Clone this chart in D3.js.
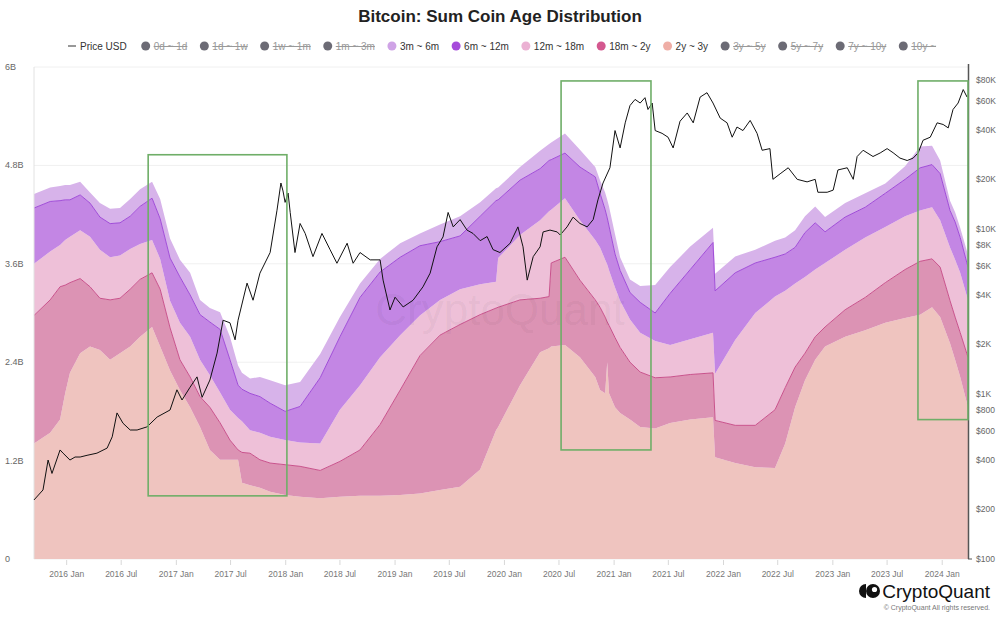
<!DOCTYPE html>
<html><head><meta charset="utf-8">
<script src="https://cdn.jsdelivr.net/npm/d3@7"></script>
<style>body{margin:0;background:#fff;} svg{display:block;font-family:"Liberation Sans", Arial, sans-serif;}</style>
</head><body><svg id="c" width="1000" height="618"></svg>
<script>
// ---------- DATA ----------
const dates = ["2015-09-14","2015-11-07","2015-12-10","2015-12-27","2016-01-12","2016-02-15","2016-03-19","2016-04-21","2016-05-25","2016-06-27","2016-07-31","2016-09-02","2016-10-12","2016-11-08","2016-12-11","2017-01-13","2017-02-16","2017-03-21","2017-04-23","2017-05-27","2017-06-29","2017-07-26","2017-08-08","2017-09-04","2017-10-07","2017-11-10","2017-12-30","2018-02-18","2018-04-26","2018-07-01","2018-09-06","2018-11-12","2019-01-18","2019-03-25","2019-05-31","2019-08-06","2019-10-12","2019-12-04","2019-12-11","2020-02-22","2020-04-29","2020-05-29","2020-06-05","2020-07-21","2020-09-09","2020-10-30","2020-11-15","2020-12-02","2020-12-09","2020-12-15","2021-01-04","2021-01-21","2021-02-23","2021-03-29","2021-05-18","2021-07-07","2021-09-12","2021-11-27","2021-12-04","2022-02-09","2022-04-17","2022-06-22","2022-07-26","2022-08-28","2022-09-30","2022-11-03","2022-12-06","2023-02-11","2023-04-19","2023-06-25","2023-08-30","2023-10-19","2023-11-28","2023-12-25","2024-01-27","2024-02-13","2024-03-01","2024-03-27"];
// Sum coin age per band, in billions (stacked bottom -> top)
const age2y3y = [1.41,1.54,1.70,2.02,2.27,2.51,2.59,2.55,2.43,2.51,2.59,2.71,2.83,2.59,2.30,2.06,1.85,1.61,1.33,1.21,1.21,1.21,0.93,0.90,0.87,0.82,0.78,0.76,0.74,0.76,0.77,0.77,0.78,0.80,0.84,0.88,1.09,1.57,1.61,2.12,2.52,2.57,2.59,2.61,2.46,2.22,2.06,2.02,2.40,2.02,1.85,1.78,1.70,1.61,1.59,1.66,1.70,1.73,1.24,1.17,1.12,1.11,1.41,1.85,2.18,2.43,2.59,2.71,2.79,2.88,2.94,2.98,3.07,2.95,2.63,2.43,2.22,1.85];
const age18m2y = [1.56,1.62,1.62,1.32,1.10,0.91,0.73,0.63,0.73,0.67,0.70,0.70,0.66,0.70,0.52,0.37,0.37,0.37,0.52,0.45,0.24,0.12,0.37,0.39,0.34,0.35,0.37,0.37,0.34,0.43,0.56,0.87,1.28,1.68,1.89,1.98,1.89,1.49,1.46,1.04,0.66,0.63,1.02,1.07,0.94,0.94,1.01,0.93,0.49,0.83,0.85,0.80,0.70,0.67,0.62,0.56,0.55,0.54,0.45,0.46,0.51,0.71,0.68,0.49,0.33,0.28,0.24,0.33,0.40,0.49,0.59,0.65,0.59,0.61,0.52,0.52,0.54,0.61];
const age12m18m = [0.63,0.59,0.51,0.55,0.56,0.59,0.61,0.59,0.52,0.52,0.49,0.43,0.40,0.37,0.33,0.45,0.49,0.45,0.39,0.37,0.37,0.39,0.38,0.28,0.33,0.32,0.30,0.29,0.33,0.63,0.79,0.82,0.67,0.49,0.43,0.43,0.37,0.32,0.60,0.79,0.95,1.04,0.65,0.72,0.73,0.73,0.73,0.70,0.70,0.67,0.61,0.57,0.52,0.48,0.45,0.39,0.43,0.49,0.57,1.04,1.37,1.38,1.18,1.02,0.93,0.82,0.78,0.73,0.73,0.68,0.65,0.62,0.63,0.57,0.65,0.70,0.73,0.70];
const age6m12m = [0.68,0.61,0.54,0.49,0.45,0.43,0.41,0.40,0.41,0.40,0.40,0.46,0.51,0.49,0.52,0.56,0.51,0.55,0.65,0.77,0.61,0.40,0.39,0.45,0.44,0.41,0.35,0.44,0.80,0.89,1.07,1.04,0.95,0.85,0.71,0.65,0.83,0.99,0.71,0.67,0.63,0.62,0.61,0.55,0.65,0.77,0.66,0.61,0.57,0.54,0.41,0.37,0.33,0.37,0.34,0.63,0.85,1.10,1.01,0.82,0.61,0.48,0.45,0.44,0.54,0.57,0.38,0.40,0.37,0.41,0.45,0.52,0.52,0.57,0.45,0.46,0.43,0.40];
const age3m6m = [0.17,0.17,0.18,0.18,0.18,0.16,0.13,0.17,0.18,0.18,0.21,0.21,0.20,0.24,0.24,0.21,0.27,0.18,0.17,0.21,0.28,0.24,0.20,0.18,0.24,0.28,0.32,0.30,0.29,0.24,0.17,0.16,0.17,0.15,0.21,0.24,0.17,0.15,0.15,0.16,0.22,0.20,0.21,0.24,0.21,0.12,0.16,0.21,0.22,0.24,0.24,0.16,0.16,0.20,0.34,0.32,0.28,0.18,0.21,0.20,0.16,0.20,0.20,0.21,0.20,0.20,0.18,0.17,0.17,0.12,0.16,0.26,0.23,0.16,0.12,0.12,0.12,0.15];

const priceDates = ["2015-09-14","2015-10-14","2015-10-31","2015-11-13","2015-12-10","2015-12-20","2016-01-12","2016-01-29","2016-02-15","2016-03-09","2016-04-11","2016-05-15","2016-06-01","2016-06-17","2016-07-07","2016-07-31","2016-08-23","2016-09-25","2016-10-29","2016-12-11","2017-01-03","2017-01-20","2017-02-16","2017-03-11","2017-03-28","2017-04-23","2017-05-17","2017-06-06","2017-06-29","2017-07-16","2017-07-26","2017-08-25","2017-09-14","2017-10-07","2017-11-10","2017-12-03","2017-12-16","2017-12-23","2017-12-30","2018-01-09","2018-01-16","2018-02-01","2018-02-18","2018-03-07","2018-04-02","2018-05-02","2018-05-29","2018-06-21","2018-07-25","2018-08-14","2018-09-06","2018-10-10","2018-11-12","2018-11-22","2018-12-15","2019-01-01","2019-01-28","2019-03-02","2019-04-04","2019-04-28","2019-05-21","2019-06-10","2019-06-27","2019-07-14","2019-08-06","2019-08-29","2019-09-18","2019-10-12","2019-11-04","2019-11-24","2019-12-17","2020-01-20","2020-02-15","2020-03-03","2020-03-17","2020-04-06","2020-04-29","2020-05-09","2020-06-01","2020-06-25","2020-07-05","2020-07-28","2020-08-17","2020-09-09","2020-10-03","2020-10-23","2020-11-08","2020-11-25","2020-12-18","2021-01-04","2021-01-21","2021-02-07","2021-02-23","2021-03-12","2021-03-29","2021-04-14","2021-04-24","2021-05-08","2021-05-18","2021-06-10","2021-06-30","2021-07-17","2021-08-09","2021-09-02","2021-09-22","2021-10-15","2021-11-07","2021-11-27","2021-12-21","2022-01-13","2022-01-30","2022-02-15","2022-03-07","2022-03-31","2022-04-23","2022-05-10","2022-06-05","2022-06-15","2022-07-09","2022-08-05","2022-09-04","2022-10-07","2022-11-03","2022-11-12","2022-12-13","2023-01-02","2023-01-18","2023-02-18","2023-03-10","2023-03-23","2023-04-12","2023-05-15","2023-06-08","2023-07-01","2023-07-21","2023-08-13","2023-09-06","2023-09-26","2023-10-13","2023-10-29","2023-11-22","2023-12-15","2024-01-04","2024-01-21","2024-02-06","2024-02-23","2024-03-11","2024-03-24"];
const priceUSD = [228,262,398,330,458,438,398,415,415,425,438,470,550,768,665,605,605,632,725,800,1060,920,1100,1270,955,1215,1770,2800,2700,2130,2800,4700,3700,5400,7200,13000,19000,17000,14500,16500,12600,7200,10800,9400,6800,9400,7500,6200,8200,6200,7200,6500,6500,4900,3230,3860,3370,3700,4460,5400,7800,8950,12600,10300,11400,9850,9400,8500,9000,7500,7200,8200,10300,7800,4900,6800,7800,9600,9850,9600,9200,10300,11800,10800,10300,11400,15000,19000,23500,39500,31000,44000,56000,61000,58000,62500,53000,58000,39500,38000,36000,31000,45000,50500,44000,63000,67000,58000,47000,44000,36000,41500,39500,45500,38000,30000,30700,20000,21600,23500,20000,19300,20000,16700,16700,17200,22800,23500,20000,27500,30000,27500,28900,30700,29000,26900,26000,26900,29000,34500,36000,44000,43000,41000,53000,58000,70000,63000];

const seriesNames = ["2y ~ 3y","18m ~ 2y","12m ~ 18m","6m ~ 12m","3m ~ 6m"];
const leftTicks = [0,1.2,2.4,3.6,4.8,6];
const leftTickLabels = ["0","1.2B","2.4B","3.6B","4.8B","6B"];
const rightTicks = [100,200,400,600,800,1000,2000,4000,6000,8000,10000,20000,40000,60000,80000];
const rightTickLabels = ["$100","$200","$400","$600","$800","$1K","$2K","$4K","$6K","$8K","$10K","$20K","$40K","$60K","$80K"];
const xTickDates = ["2016-01-01","2016-07-01","2017-01-01","2017-07-01","2018-01-01","2018-07-01","2019-01-01","2019-07-01","2020-01-01","2020-07-01","2021-01-01","2021-07-01","2022-01-01","2022-07-01","2023-01-01","2023-07-01","2024-01-01"];
const xTickLabels = ["2016 Jan","2016 Jul","2017 Jan","2017 Jul","2018 Jan","2018 Jul","2019 Jan","2019 Jul","2020 Jan","2020 Jul","2021 Jan","2021 Jul","2022 Jan","2022 Jul","2023 Jan","2023 Jul","2024 Jan"];
const legendLabels = ["Price USD","0d ~ 1d","1d ~ 1w","1w ~ 1m","1m ~ 3m","3m ~ 6m","6m ~ 12m","12m ~ 18m","18m ~ 2y","2y ~ 3y","3y ~ 5y","5y ~ 7y","7y ~ 10y","10y ~"];
const legendActive = [true,false,false,false,false,true,true,true,true,true,false,false,false,false];
// highlight boxes: [startDate, endDate, lowB, highB]
const boxStart = ["2016-09-29","2020-07-08","2023-10-12"];
const boxEnd = ["2018-01-05","2021-05-04","2024-03-27"];
const boxLow = [0.77,1.33,1.70];
const boxHigh = [4.93,5.83,5.83];

// ---------- STYLE ----------
const fills = {"2y ~ 3y":"#efc4bf","18m ~ 2y":"#dc93b4","12m ~ 18m":"#eec0d8","6m ~ 12m":"#c386e4","3m ~ 6m":"#d7b3ea"};
const strokes = {"2y ~ 3y":"#efc4bf","18m ~ 2y":"#c9528c","12m ~ 18m":"#eec0d8","6m ~ 12m":"#a04cd8","3m ~ 6m":"#d7b3ea"};
const legendColor = {"3m ~ 6m":"#cfa3e6","6m ~ 12m":"#a64bdb","12m ~ 18m":"#ebb1d3","18m ~ 2y":"#d4588f","2y ~ 3y":"#efaea6"};

const parse = d3.utcParse("%Y-%m-%d");
const L = 34, R = 968, T = 67, B = 559;
const svg = d3.select("#c");

const x = d3.scaleUtc().domain([parse("2015-09-14"), parse("2024-03-27")]).range([L, R]);
const y = d3.scaleLinear().domain([0, 6]).range([B, T]);
const yP = d3.scaleLog().domain([100, 100000]).range([B, 64]);

// title
svg.append("text").attr("x", 500).attr("y", 22).attr("text-anchor", "middle")
  .attr("font-size", 17).attr("font-weight", "bold").attr("fill", "#222")
  .text("Bitcoin: Sum Coin Age Distribution");

// legend
{
  const g = svg.append("g").attr("font-size", 10);
  let cx = 68; const ly = 46;
  legendLabels.forEach((lab, i) => {
    if (i === 0) {
      g.append("line").attr("x1", cx).attr("x2", cx + 8).attr("y1", ly).attr("y2", ly).attr("stroke", "#333").attr("stroke-width", 1);
      const t = g.append("text").attr("x", cx + 12).attr("y", ly + 3.5).attr("fill", "#333").text(lab);
      cx = cx + 12 + t.node().getComputedTextLength() + 19;
      return;
    }
    const active = legendActive[i];
    g.append("circle").attr("cx", cx).attr("cy", ly).attr("r", 4.5).attr("fill", active ? legendColor[lab] : "#6c6b75");
    const t = g.append("text").attr("x", cx + 8).attr("y", ly + 3.5)
      .attr("fill", active ? "#333" : "#999")
      .attr("text-decoration", active ? null : "line-through").text(lab);
    cx = cx + 8 + t.node().getComputedTextLength() + 17;
  });
}

// gridlines
svg.append("g").selectAll("line").data(leftTicks).join("line")
  .attr("x1", L).attr("x2", R).attr("y1", d => y(d)).attr("y2", d => y(d))
  .attr("stroke", "#f0f0f0").attr("stroke-width", 1);

// stacked areas
const table = dates.map((d, i) => ({
  date: parse(d),
  "2y ~ 3y": age2y3y[i], "18m ~ 2y": age18m2y[i], "12m ~ 18m": age12m18m[i],
  "6m ~ 12m": age6m12m[i], "3m ~ 6m": age3m6m[i]
}));
const stack = d3.stack().keys(seriesNames)(table);
const area = d3.area().x(d => x(d.data.date)).y0(d => y(d[0])).y1(d => y(d[1]));
const topLine = d3.line().x(d => x(d.data.date)).y(d => y(d[1]));
const ag = svg.append("g");
stack.forEach(s => {
  ag.append("path").attr("d", area(s)).attr("fill", fills[s.key]);
});
stack.forEach(s => {
  if (s.key === "6m ~ 12m" || s.key === "18m ~ 2y")
    ag.append("path").attr("d", topLine(s)).attr("fill", "none").attr("stroke", strokes[s.key]).attr("stroke-width", 1);
});

// watermark
svg.append("text").attr("x", 500).attr("y", 325).attr("text-anchor", "middle")
  .attr("font-size", 44).attr("fill", "#000").attr("fill-opacity", 0.05).text("CryptoQuant");

// left axis
svg.append("line").attr("x1", L).attr("x2", L).attr("y1", T).attr("y2", B).attr("stroke", "#e2e2e2");
svg.append("g").selectAll("text").data(leftTicks).join("text")
  .attr("x", 5).attr("y", d => y(d) + 3).attr("font-size", 9).attr("fill", "#666")
  .text((d, i) => leftTickLabels[i]);

// x axis
const xg = svg.append("g");
xg.selectAll("line").data(xTickDates).join("line")
  .attr("x1", d => x(parse(d))).attr("x2", d => x(parse(d)))
  .attr("y1", B + 1).attr("y2", B + 6).attr("stroke", "#d8d8d8");
xg.selectAll("text").data(xTickDates).join("text")
  .attr("x", d => x(parse(d))).attr("y", 577).attr("text-anchor", "middle")
  .attr("font-size", 8.5).attr("fill", "#777").text((d, i) => xTickLabels[i]);

// right axis
svg.append("line").attr("x1", R + 0.5).attr("x2", R + 0.5).attr("y1", 64).attr("y2", B).attr("stroke", "#555").attr("stroke-width", 1.5);
svg.append("line").attr("x1", R).attr("x2", R + 4).attr("y1", B).attr("y2", B).attr("stroke", "#555");
svg.append("g").selectAll("text").data(rightTicks).join("text")
  .attr("x", 976).attr("y", d => yP(d) + 3).attr("font-size", 8.5).attr("fill", "#666")
  .text((d, i) => rightTickLabels[i]);

// price line
const price = priceDates.map((d, i) => ({date: parse(d), v: priceUSD[i]}));
svg.append("path").datum(price)
  .attr("d", d3.line().x(d => x(d.date)).y(d => yP(d.v)))
  .attr("fill", "none").attr("stroke", "#111").attr("stroke-width", 1);

// highlight boxes
svg.append("g").selectAll("rect").data(boxStart).join("rect")
  .attr("x", (d, i) => x(parse(d)))
  .attr("y", (d, i) => y(boxHigh[i]))
  .attr("width", (d, i) => x(parse(boxEnd[i])) - x(parse(d)))
  .attr("height", (d, i) => y(boxLow[i]) - y(boxHigh[i]))
  .attr("fill", "none").attr("stroke", "#6fae68").attr("stroke-width", 1.6);

// logo
{
  const g = svg.append("g");
  g.append("path").attr("d", "M866,584 A7,7 0 0 0 866,598 Z").attr("fill", "#111");
  g.append("circle").attr("cx", 873).attr("cy", 591).attr("r", 7).attr("fill", "#111");
  g.append("circle").attr("cx", 874.5).attr("cy", 589.5).attr("r", 2.6).attr("fill", "#fff");
  g.append("text").attr("x", 990).attr("y", 598).attr("text-anchor", "end")
    .attr("font-size", 19).attr("fill", "#111").text("CryptoQuant");
  g.append("text").attr("x", 990).attr("y", 610).attr("text-anchor", "end")
    .attr("font-size", 7).attr("fill", "#777").text("© CryptoQuant All rights reserved.");
}
</script></body></html>
